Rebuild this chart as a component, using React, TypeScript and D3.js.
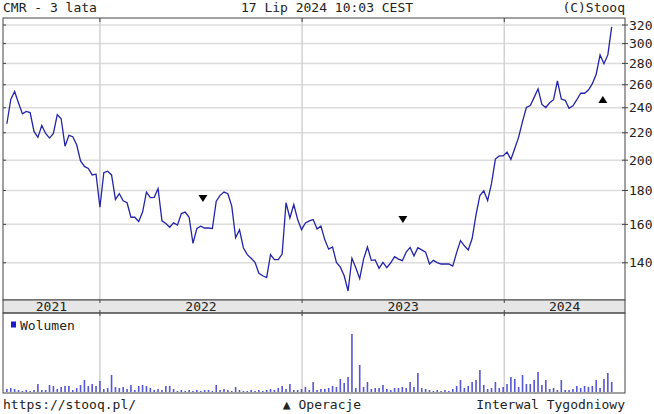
import React from "react";
import * as d3 from "d3";

const title = "CMR - 3 lata";
const stamp = "17 Lip 2024 10:03 CEST";
const copyright = "(C)Stooq";
const footerLeft = "https://stooq.pl/";
const footerMid = "\u25B2 Operacje";
const footerRight = "Interwal Tygodniowy";
const volumeLabel = "Wolumen";

const firstWeek = "2021-07-17";
const priceTicks = [140, 160, 180, 200, 220, 240, 260, 280, 300, 320];
const yearLabels = ["2021", "2022", "2023", "2024"];

const closes = [
  227, 247, 254, 244, 235, 237, 236, 221, 216.5, 225.6,
  219.5, 216, 219.5, 234.4, 231, 210, 218, 217, 211, 199.5,
  195.7, 194.3, 190, 190.5, 169.8, 191.5, 192.5, 190, 174.5, 178,
  173.7, 172.5, 164, 164, 161.6, 167, 179, 175.6, 175.8, 181.2,
  162, 160.5, 158.4, 160.8, 159.6, 166.1, 167, 164, 149.8, 157.7,
  159, 158, 158, 157.7, 173.4, 177, 179, 178, 170.5, 152.7,
  157, 147.5, 144, 142.2, 140.2, 135, 133.8, 133, 144, 141.5,
  141.5, 144.3, 172.5, 163.6, 171.4, 162.7, 157.1, 160.8, 161.9, 162.7,
  157.5, 159, 151.6, 146.8, 147.9, 140.2, 137.9, 133.8, 126.9, 142.2,
  137.6, 132.5, 141.8, 147.9, 141.2, 141.4, 137.3, 140.2, 137.6, 140,
  143, 141.8, 141, 145.3, 147.7, 143.4, 147.5, 146.4, 145.3, 139.4,
  141.2, 140.1, 139.4, 139.4, 139.4, 138.4, 145, 151.2, 148.5, 146.4,
  152.3, 165.4, 176.9, 179.8, 173.8, 184.5, 200.8, 203, 203, 205.7,
  200.6, 208.3, 216.7, 228.9, 240.2, 241.9, 248.8, 256.3, 242.8, 240.2,
  244.2, 246.8, 263.6, 247.4, 246.3, 239.5, 241.6, 246.8, 252.4, 252.4,
  255.2, 261, 269.7, 288.4, 279.7, 288.4, 318,
];

const volumes = [
  3, 4, 3, 2, 1, 2, 1, 2, 8, 2,
  2, 7, 6, 3, 5, 6, 6, 2, 4, 7,
  12, 6, 8, 6, 11, 3, 4, 17, 5, 4,
  5, 3, 7, 2, 6, 7, 6, 4, 2, 3,
  2, 6, 6, 3, 1, 2, 1, 2, 1, 2,
  1, 2, 2, 1, 7, 2, 3, 2, 1, 5,
  2, 1, 1, 2, 1, 2, 1, 2, 3, 2,
  4, 6, 3, 8, 2, 2, 3, 5, 2, 10,
  2, 3, 3, 4, 6, 5, 13, 9, 15, 58,
  4, 27, 5, 10, 3, 4, 4, 7, 3, 2,
  4, 4, 5, 4, 10, 5, 19, 4, 3, 2,
  1, 2, 1, 2, 1, 3, 6, 12, 4, 6,
  10, 12, 22, 7, 3, 4, 10, 4, 5, 8,
  15, 13, 5, 17, 8, 8, 12, 20, 7, 12,
  3, 4, 2, 12, 2, 2, 3, 6, 4, 6,
  5, 6, 12, 4, 13, 19, 10,
];

const opDates = ["2022-07-06", "2023-07-02", "2024-06-27"];
const opLevels = [175, 162.7, 247];
const opUp = [false, false, true];

const W = 654;
const H = 414;
const L = 3;
const R = 625;
const PT = 18;
const PB = 300;
const BB = 313;
const VB = 393;
const FONT = "'DejaVu Sans Mono', monospace";
const FS = 13;

const parse = d3.utcParse("%Y-%m-%d");
const start = parse(firstWeek)!;
const dates = closes.map((_, i) => d3.utcDay.offset(start, i * 7));

export default function App() {
  const x = d3
    .scaleUtc()
    .domain([parse("2021-07-10")!, parse("2024-08-06")!])
    .range([L, R]);
  const y = d3.scaleLog().domain([123, 327.9]).range([PB, PT]);
  const v = d3.scaleLinear().domain([0, 79]).range([VB - 1, BB]);

  const years = yearLabels.map((s) => +s);
  const boundaries = years.slice(1).map((yr) => x(new Date(Date.UTC(yr, 0, 1))));
  const [d0, d1] = x.range();
  const yearCenters = years.map((yr) => {
    const a = Math.max(d0, x(new Date(Date.UTC(yr, 0, 1))));
    const b = Math.min(d1, x(new Date(Date.UTC(yr + 1, 0, 1))));
    return (a + b) / 2;
  });

  const line = d3
    .line<number>()
    .x((_, i) => x(dates[i]))
    .y((d) => y(d))
    .curve(d3.curveLinear);

  const frame = "#444";

  return (
    <svg
      width={W}
      height={H}
      style={{ position: "absolute", left: 0, top: 0, display: "block" }}
      fontFamily={FONT}
      fontSize={FS}
    >
      <rect x={0} y={0} width={W} height={H} fill="#fff" />

      {/* header */}
      <text x={3} y={12} fill="#222">{title}</text>
      <text x={327} y={12} textAnchor="middle" fill="#222">{stamp}</text>
      <text x={R} y={12} textAnchor="end" fill="#222">{copyright}</text>

      {/* price gridlines */}
      {priceTicks.map((t) => (
        <line key={"g" + t} x1={L} x2={R} y1={y(t)} y2={y(t)} stroke="#dcdcdc" strokeWidth={1.5} />
      ))}
      {boundaries.map((bx, i) => (
        <line key={"vg" + i} x1={bx} x2={bx} y1={PT} y2={PB} stroke="#d2d2d2" strokeWidth={1.5} />
      ))}

      {/* price line */}
      <path d={line(closes) || ""} fill="none" stroke="#2424a8" strokeWidth={1.3} />

      {/* operation markers */}
      {opDates.map((ds, i) => {
        const cx = x(parse(ds)!);
        const cy = y(opLevels[i]);
        const p = opUp[i]
          ? `M${cx - 4.5},${cy + 3.5}L${cx + 4.5},${cy + 3.5}L${cx},${cy - 3.5}Z`
          : `M${cx - 4.5},${cy - 3.5}L${cx + 4.5},${cy - 3.5}L${cx},${cy + 3.5}Z`;
        return <path key={"op" + i} d={p} fill="#000" />;
      })}

      {/* price frame */}
      <rect x={L} y={PT} width={R - L} height={PB - PT} fill="none" stroke={frame} strokeWidth={1} />
      {boundaries.map((bx, i) => (
        <line key={"tt" + i} x1={bx} x2={bx} y1={PT} y2={PT + 4} stroke={frame} strokeWidth={1} />
      ))}
      {priceTicks.map((t) => (
        <g key={"t" + t}>
          <line x1={L} x2={L + 3} y1={y(t)} y2={y(t)} stroke={frame} />
          <line x1={R - 3} x2={R + 3} y1={y(t)} y2={y(t)} stroke={frame} />
          <text x={629} y={y(t)} dy="0.36em" fill="#222">{t}</text>
        </g>
      ))}

      {/* year band */}
      <rect x={L} y={PB} width={R - L} height={BB - PB} fill="#e6e6e6" stroke={frame} strokeWidth={1} />
      {boundaries.map((bx, i) => (
        <g key={"bt" + i}>
          <line x1={bx} x2={bx} y1={PB} y2={PB + 3} stroke={frame} />
          <line x1={bx} x2={bx} y1={BB - 3} y2={BB} stroke={frame} />
        </g>
      ))}
      {yearLabels.map((s, i) => (
        <text key={s} x={yearCenters[i]} y={BB - 2.5} textAnchor="middle" fill="#222">{s}</text>
      ))}

      {/* volume panel */}
      {boundaries.map((bx, i) => (
        <line key={"vv" + i} x1={bx} x2={bx} y1={BB} y2={VB} stroke="#d2d2d2" strokeWidth={1.5} />
      ))}
      {volumes.map((val, i) => (
        <rect
          key={"b" + i}
          x={x(dates[i]) - 0.8}
          y={v(val)}
          width={1.6}
          height={v(0) - v(val)}
          fill="#5656d8"
        />
      ))}
      <rect x={L} y={BB} width={R - L} height={VB - BB} fill="none" stroke={frame} strokeWidth={1} />
      {boundaries.map((bx, i) => (
        <line key={"vt" + i} x1={bx} x2={bx} y1={BB} y2={BB + 3} stroke={frame} />
      ))}
      <rect x={11} y={321.5} width={5} height={6} fill="#1c1cc8" />
      <text x={20} y={330} fill="#222">{volumeLabel}</text>

      {/* footer */}
      <text x={3} y={409} fill="#222">{footerLeft}</text>
      <text x={322} y={409} textAnchor="middle" fill="#222">{footerMid}</text>
      <text x={R} y={409} textAnchor="end" fill="#222">{footerRight}</text>
    </svg>
  );
}
